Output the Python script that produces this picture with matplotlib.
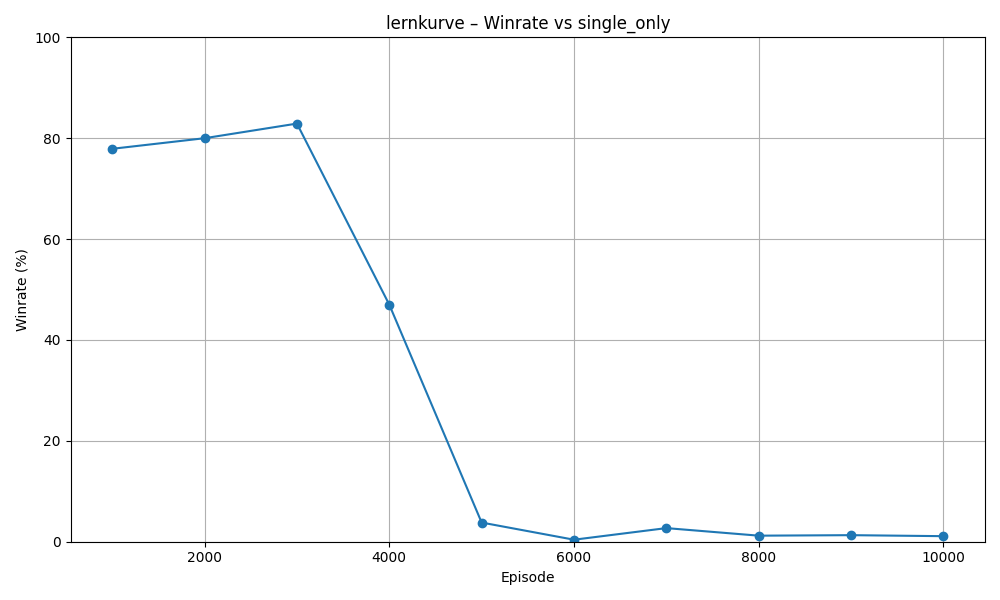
import matplotlib
matplotlib.use("Agg")
import matplotlib.pyplot as plt

EPISODES = [1000, 2000, 3000, 4000, 5000, 6000, 7000, 8000, 9000, 10000]
WINRATE = [77.9, 80.0, 82.9, 47.0, 3.8, 0.4, 2.7, 1.2, 1.3, 1.1]


def main() -> int:
    plt.figure(figsize=(10, 6))
    plt.plot(EPISODES, WINRATE, marker="o")
    plt.title("lernkurve – Winrate vs single_only")
    plt.xlabel("Episode")
    plt.ylabel("Winrate (%)")
    plt.ylim(0, 100)
    plt.grid(True)
    plt.tight_layout()
    plt.savefig("out.png", dpi=100)
    plt.close()
    return 0


if __name__ == "__main__":
    raise SystemExit(main())
